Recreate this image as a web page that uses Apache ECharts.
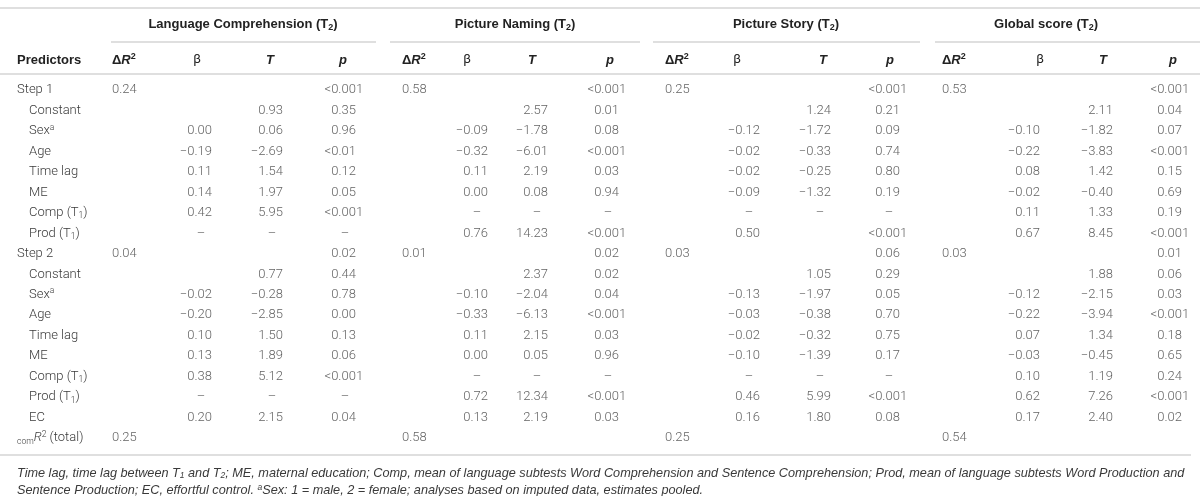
<!DOCTYPE html>
<html lang="en">
<head>
<meta charset="utf-8">
<title>Regression table</title>
<script src="https://cdn.jsdelivr.net/npm/echarts@6/dist/echarts.min.js"></script>
<style>
  html, body { margin: 0; padding: 0; background: #fff; }
  #main { width: 1200px; height: 496px; }
</style>
</head>
<body>
<div id="main"></div>
<script>
// row labels (predictors), top to bottom
var predictors = ['Step 1', 'Constant', 'Sex', 'Age', 'Time lag', 'ME', 'Comp (T1)', 'Prod (T1)',
  'Step 2', 'Constant', 'Sex', 'Age', 'Time lag', 'ME', 'Comp (T1)', 'Prod (T1)', 'EC', 'comR2 (total)'];

var groupTitles = ['Language Comprehension (T2)', 'Picture Naming (T2)', 'Picture Story (T2)', 'Global score (T2)'];
var colHeads = ['dR2', 'β', 'T', 'p'];

// Language Comprehension
var lcDeltaR2 = ['0.24', '', '', '', '', '', '', '', '0.04', '', '', '', '', '', '', '', '', '0.25'];
var lcBeta = ['', '', '0.00', '−0.19', '0.11', '0.14', '0.42', '–', '', '', '−0.02', '−0.20', '0.10', '0.13', '0.38', '–', '0.20', ''];
var lcT = ['', '0.93', '0.06', '−2.69', '1.54', '1.97', '5.95', '–', '', '0.77', '−0.28', '−2.85', '1.50', '1.89', '5.12', '–', '2.15', ''];
var lcP = ['<0.001', '0.35', '0.96', '<0.01', '0.12', '0.05', '<0.001', '–', '0.02', '0.44', '0.78', '0.00', '0.13', '0.06', '<0.001', '–', '0.04', ''];

// Picture Naming
var pnDeltaR2 = ['0.58', '', '', '', '', '', '', '', '0.01', '', '', '', '', '', '', '', '', '0.58'];
var pnBeta = ['', '', '−0.09', '−0.32', '0.11', '0.00', '–', '0.76', '', '', '−0.10', '−0.33', '0.11', '0.00', '–', '0.72', '0.13', ''];
var pnT = ['', '2.57', '−1.78', '−6.01', '2.19', '0.08', '–', '14.23', '', '2.37', '−2.04', '−6.13', '2.15', '0.05', '–', '12.34', '2.19', ''];
var pnP = ['<0.001', '0.01', '0.08', '<0.001', '0.03', '0.94', '–', '<0.001', '0.02', '0.02', '0.04', '<0.001', '0.03', '0.96', '–', '<0.001', '0.03', ''];

// Picture Story
var psDeltaR2 = ['0.25', '', '', '', '', '', '', '', '0.03', '', '', '', '', '', '', '', '', '0.25'];
var psBeta = ['', '', '−0.12', '−0.02', '−0.02', '−0.09', '–', '0.50', '', '', '−0.13', '−0.03', '−0.02', '−0.10', '–', '0.46', '0.16', ''];
var psT = ['', '1.24', '−1.72', '−0.33', '−0.25', '−1.32', '–', '', '', '1.05', '−1.97', '−0.38', '−0.32', '−1.39', '–', '5.99', '1.80', ''];
var psP = ['<0.001', '0.21', '0.09', '0.74', '0.80', '0.19', '–', '<0.001', '0.06', '0.29', '0.05', '0.70', '0.75', '0.17', '–', '<0.001', '0.08', ''];

// Global score
var gsDeltaR2 = ['0.53', '', '', '', '', '', '', '', '0.03', '', '', '', '', '', '', '', '', '0.54'];
var gsBeta = ['', '', '−0.10', '−0.22', '0.08', '−0.02', '0.11', '0.67', '', '', '−0.12', '−0.22', '0.07', '−0.03', '0.10', '0.62', '0.17', ''];
var gsT = ['', '2.11', '−1.82', '−3.83', '1.42', '−0.40', '1.33', '8.45', '', '1.88', '−2.15', '−3.94', '1.34', '−0.45', '1.19', '7.26', '2.40', ''];
var gsP = ['<0.001', '0.04', '0.07', '<0.001', '0.15', '0.69', '0.19', '<0.001', '0.01', '0.06', '0.03', '<0.001', '0.18', '0.65', '0.24', '<0.001', '0.02', ''];

var footLine1 = 'Time lag, time lag between T{isub|1} and T{isub|2}; ME, maternal education; Comp, mean of language subtests Word Comprehension and Sentence Comprehension; Prod, mean of language subtests Word Production and';
var footLine2 = 'Sentence Production; EC, effortful control. {isup|a}Sex: 1 = male, 2 = female; analyses based on imputed data, estimates pooled.';

// ---------- layout ----------
var groups = [
  { cols: [lcDeltaR2, lcBeta, lcT, lcP], x: [112, 212, 283, 356], head: [112, 197, 270, 343], line: [111, 376], title: 243 },
  { cols: [pnDeltaR2, pnBeta, pnT, pnP], x: [402, 488, 548, 619], head: [402, 467, 532, 610], line: [390, 640], title: 515 },
  { cols: [psDeltaR2, psBeta, psT, psP], x: [665, 760, 831, 900], head: [665, 737, 823, 890], line: [653, 920], title: 786 },
  { cols: [gsDeltaR2, gsBeta, gsT, gsP], x: [942, 1040, 1113, 1182], head: [942, 1040, 1103, 1173], line: [935, 1200], title: 1046 }
];

var bodyFont = 'Roboto';
var boldFont = '"Liberation Sans", Arial, sans-serif';
var textColor = '#3a3a3a';
var headColor = '#222';
var ruleColor = '#d4d4d4';
var digitW = 7.1;

var supSub = {
  sup: { fontSize: 8.5, lineHeight: 8, verticalAlign: 'top', fontFamily: bodyFont, fontWeight: 300, color: textColor },
  sub: { fontSize: 8.5, lineHeight: 8, verticalAlign: 'bottom', fontFamily: bodyFont, fontWeight: 300, color: textColor },
  it: { fontStyle: 'italic', fontSize: 13, lineHeight: 16, fontFamily: bodyFont, fontWeight: 300, color: textColor },
  ind: { width: 12, fontSize: 13, lineHeight: 16 }
};

function rowLabel(name, i) {
  var s = name.replace('(T1)', '(T{sub|1})');
  if (s === 'Sex') s = 'Sex{sup|a}';
  s = s.replace('comR2', '{sub|com}{it|R}{sup|2}');
  var top = (s.indexOf('Step') === 0 || s.indexOf('{sub|com}') === 0);
  return top ? s : '{ind| }' + s;
}

function cellLabel(text, col) {
  if (text === '–') return { align: 'center', offset: [-11, 0] };
  if (col === 0) return { align: 'left', offset: [0, 0] };
  var dot = text.indexOf('.');
  var frac = dot < 0 ? 2 : text.length - dot - 1;
  return { align: 'right', offset: [(frac - 2) * digitW, 0] };
}

var series = [];
groups.forEach(function (g) {
  g.cols.forEach(function (arr, c) {
    var data = [];
    arr.forEach(function (t, i) {
      if (!t) return;
      data.push({ name: t, value: [g.x[c], i], label: cellLabel(t, c) });
    });
    series.push({
      type: 'scatter',
      symbolSize: 1,
      itemStyle: { color: 'rgba(0,0,0,0)' },
      silent: true,
      data: data,
      label: {
        show: true,
        position: 'inside',
        verticalAlign: 'middle',
        formatter: function (p) { return p.name; },
        fontFamily: bodyFont,
        fontWeight: 300,
        fontSize: 13,
        color: textColor
      }
    });
  });
});

// ---------- header / rules / notes (graphic) ----------
var graphics = [];
function rule(x1, x2, y) {
  graphics.push({ type: 'line', shape: { x1: x1, y1: y, x2: x2, y2: y }, style: { stroke: ruleColor, lineWidth: 1.5 }, silent: true });
}
rule(0, 1200, 8);
rule(0, 1200, 74);
rule(0, 1191, 455);

var headRich = {
  b: { fontFamily: boldFont, fontWeight: 'bold', fontSize: 13, lineHeight: 16, fill: headColor, color: headColor },
  bi: { fontFamily: boldFont, fontWeight: 'bold', fontStyle: 'italic', fontSize: 13, lineHeight: 16, fill: headColor, color: headColor },
  bsup: { fontFamily: boldFont, fontWeight: 'bold', fontSize: 9, lineHeight: 9, verticalAlign: 'top', fill: headColor, color: headColor },
  bsub: { fontFamily: boldFont, fontWeight: 'bold', fontSize: 9, lineHeight: 9, verticalAlign: 'bottom', fill: headColor, color: headColor },
  g: { fontFamily: bodyFont, fontSize: 13, lineHeight: 16, fill: headColor, color: headColor }
};
function headText(x, y, text, align) {
  graphics.push({
    type: 'text', x: x, y: y, silent: true,
    style: {
      text: text, rich: headRich,
      font: 'bold 13px ' + boldFont, fill: headColor,
      align: align, textAlign: align, verticalAlign: 'middle', textVerticalAlign: 'middle'
    }
  });
}
function headMarkup(h) {
  if (h === 'dR2') return '{b|Δ}{bi|R}{bsup|2}';
  if (h === 'β') return '{g|β}';
  return '{bi|' + h + '}';
}
headText(17, 60, '{b|Predictors}', 'left');
groups.forEach(function (g, k) {
  rule(g.line[0], g.line[1], 42);
  headText(g.title, 24, '{b|' + groupTitles[k].replace('(T2)', '(T}{bsub|2}{b|)') + '}', 'center');
  colHeads.forEach(function (h, c) {
    headText(g.head[c], 60, headMarkup(h), c === 0 ? 'left' : 'center');
  });
});

var footRich = {
  isub: { fontFamily: boldFont, fontStyle: 'italic', fontSize: 8.5, lineHeight: 8, verticalAlign: 'bottom', fill: textColor, color: textColor },
  isup: { fontFamily: boldFont, fontStyle: 'italic', fontSize: 8.5, lineHeight: 8, verticalAlign: 'top', fill: textColor, color: textColor }
};
[footLine1, footLine2].forEach(function (t, i) {
  graphics.push({
    type: 'text', x: 17, y: 473 + i * 17, silent: true,
    style: {
      text: t, rich: footRich,
      font: 'italic 12.7px ' + boldFont, fill: textColor,
      lineHeight: 14,
      align: 'left', textAlign: 'left', verticalAlign: 'middle', textVerticalAlign: 'middle'
    }
  });
});

var myChart = echarts.init(document.getElementById('main'));
myChart.setOption({
  animation: false,
  grid: { left: 0, right: 0, top: 79.8, bottom: 47.7, containLabel: false, outerBoundsMode: 'none' },
  xAxis: { type: 'value', min: 0, max: 1200, show: false },
  yAxis: {
    type: 'category',
    inverse: true,
    data: predictors,
    axisLine: { show: false },
    axisTick: { show: false },
    splitLine: { show: false },
    axisLabel: {
      show: true,
      inside: true,
      interval: 0,
      margin: 17,
      align: 'left',
      fontFamily: bodyFont,
      fontWeight: 300,
      fontSize: 13,
      lineHeight: 16,
      color: textColor,
      formatter: rowLabel,
      rich: supSub
    }
  },
  graphic: graphics,
  series: series
});
</script>
</body>
</html>
